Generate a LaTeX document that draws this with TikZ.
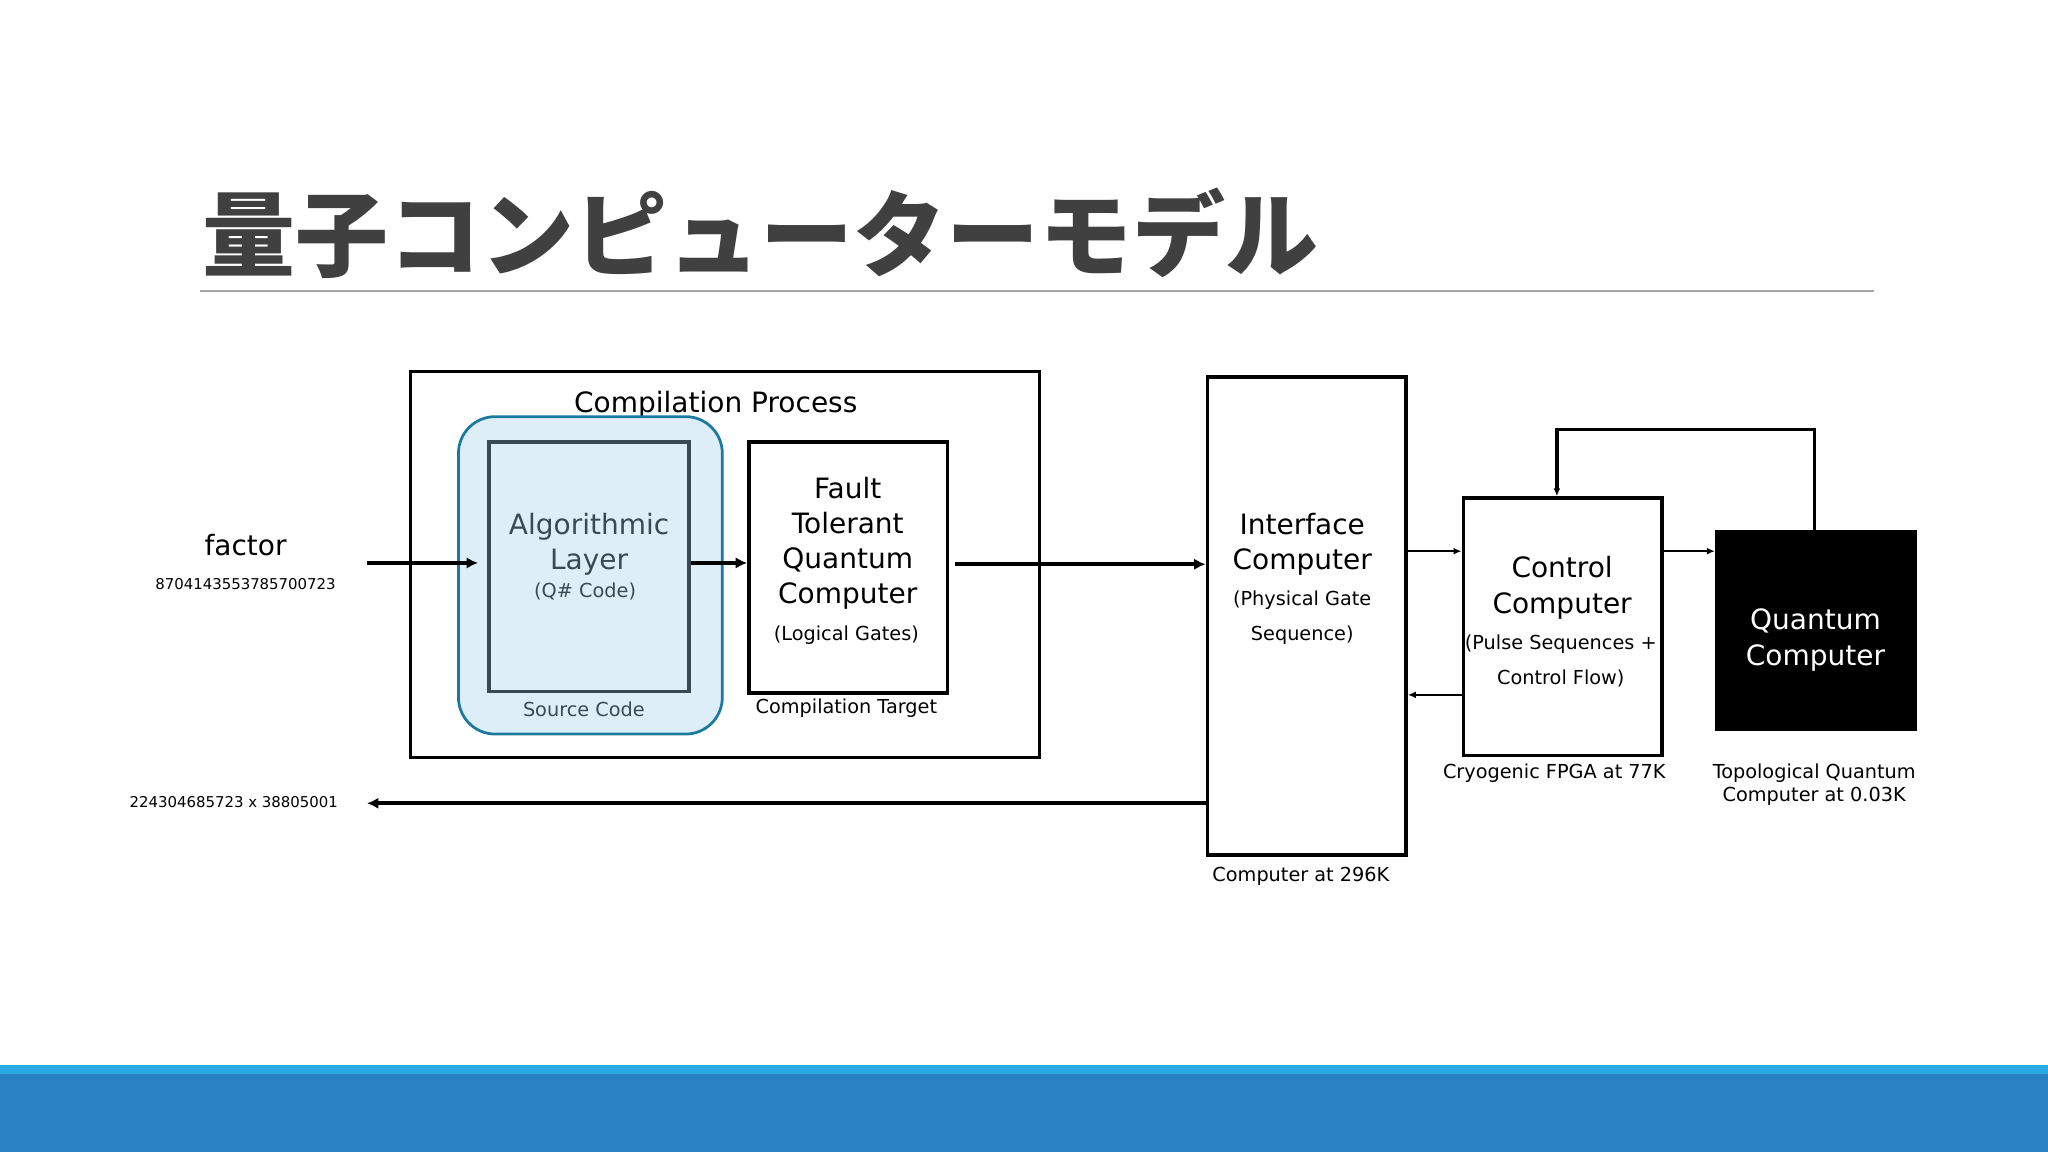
\documentclass[tikz,border=0pt]{standalone}
\usepackage{fontspec}
\usetikzlibrary{arrows.meta}
\setmainfont{DejaVu Sans}
\newfontfamily\cjk{Noto Sans CJK JP}
\definecolor{titlegray}{HTML}{404040}
\definecolor{barlight}{HTML}{29ABE2}
\definecolor{bardark}{HTML}{2A82C4}
\definecolor{algfill}{HTML}{DDEEF9}
\definecolor{algline}{HTML}{1A7A9E}
\definecolor{alggray}{HTML}{3A4A55}
\begin{document}
\begin{tikzpicture}[x=0.02cm,y=-0.02cm,
  box/.style={draw,line width=1.6pt,inner sep=0pt},
  big/.style={font=\fontsize{12.2}{15.3}\selectfont,align=center,inner sep=0pt},
  sub/.style={font=\fontsize{8.4}{15.3}\selectfont,align=center,inner sep=0pt},
  lab/.style={font=\fontsize{8.4}{10}\selectfont,align=center,inner sep=0pt},
  arr/.style={line width=1.8pt,-{Latex[length=5pt,width=5pt]}},
  tarr/.style={line width=1pt,-{Latex[length=3.5pt,width=3pt]}}]
\useasboundingbox (0,0) rectangle (1568,882);
\fill[white] (0,0) rectangle (1568,882);
\fill[barlight] (0,815) rectangle (1568,822);
\fill[bardark] (0,822) rectangle (1568,882);
\node[anchor=base west,inner sep=0pt,text=titlegray,font=\cjk\bfseries\fontsize{40.5}{46}\selectfont] (title) at (155,206) {量子コンピューターモデル};
\draw[gray!70,line width=0.8pt] (153,223) -- (1435,223);
% compilation
\node[box,line width=1.3pt,minimum width=482*0.02cm,minimum height=296*0.02cm,anchor=north west] (comp) at (313,283) {};
\node[big,anchor=base] (comptitle) at (548,316) {Compilation Process};
\draw[algline,fill=algfill,line width=1.2pt,rounded corners=28*0.02cm] (351,319) rectangle (553,562);
\node[box,draw=alggray,minimum width=153*0.02cm,minimum height=191*0.02cm,anchor=north west] (alg) at (373,337) {};
\node[big,text=alggray] (algt) at (451,417) {Algorithmic\\Layer};
\node[sub,text=alggray] (algs) at (448,453) {(Q\# Code)};
\node[lab,text=alggray] (src) at (447,543) {Source Code};
\node[box,minimum width=152*0.02cm,minimum height=192*0.02cm,anchor=north west] (ftqc) at (572,337) {};
\node[big] (ftqct) at (649,416) {Fault\\Tolerant\\Quantum\\Computer};
\node[sub] (ftqcs) at (648,486) {(Logical Gates)};
\node[lab] (ctarget) at (648,542) {Compilation Target};
% interface
\node[box,minimum width=152*0.02cm,minimum height=366*0.02cm,anchor=north west] (intf) at (923,287) {};
\node[big] (intft) at (997,417) {Interface\\Computer};
\node[sub] (intfs) at (997,473) {(Physical Gate\\Sequence)};
\node[lab] (k296) at (996,671) {Computer at 296K};
% control
\node[box,minimum width=152*0.02cm,minimum height=197*0.02cm,anchor=north west] (ctrl) at (1119,380) {};
\node[big] (ctrlt) at (1196,450) {Control\\Computer};
\node[sub] (ctrls) at (1195,506) {(Pulse Sequences +\\Control Flow)};
\node[lab] (k77) at (1190,592) {Cryogenic FPGA at 77K};
% quantum
\node[fill=black,draw=black,minimum width=154*0.02cm,minimum height=153*0.02cm,anchor=north west,inner sep=0pt] (qc) at (1313,406) {};
\node[big,text=white] (qct) at (1390,490) {Quantum\\Computer};
\node[lab] (k003) at (1389,601) {Topological Quantum\\Computer at 0.03K};
% inputs/outputs
\node[font=\fontsize{12.2}{14}\selectfont,inner sep=0pt] (factor) at (188,417) {factor};
\node[font=\fontsize{6.5}{8}\selectfont,inner sep=0pt] (num) at (188,447) {8704143553785700723};
\node[font=\fontsize{6.5}{8}\selectfont,inner sep=0pt] (res) at (179,614) {224304685723 x 38805001};
\coordinate (inA) at (281,431);
\coordinate (inB) at (366,431);
\draw[arr] (inA) -- (inB);
\draw[arr] (alg.east |- 0,431) -- (ftqc.west |- 0,431);
\coordinate (fo) at (731,432);
\draw[arr] (fo) -- (intf.west |- fo);
\coordinate (outE) at (281,615);
\draw[arr] (intf.west |- outE) -- (outE);
\draw[tarr] (intf.east |- 0,422) -- (ctrl.west |- 0,422);
\draw[tarr] (ctrl.west |- 0,532) -- (intf.east |- 0,532);
\draw[tarr] (ctrl.east |- 0,422) -- (qc.west |- 0,422);
\draw[tarr,line width=1.4pt] (qc.north -| 1389,0) -- (1389,329) -- (1192,329) -- (ctrl.north -| 1192,0);
\end{tikzpicture}
\end{document}
